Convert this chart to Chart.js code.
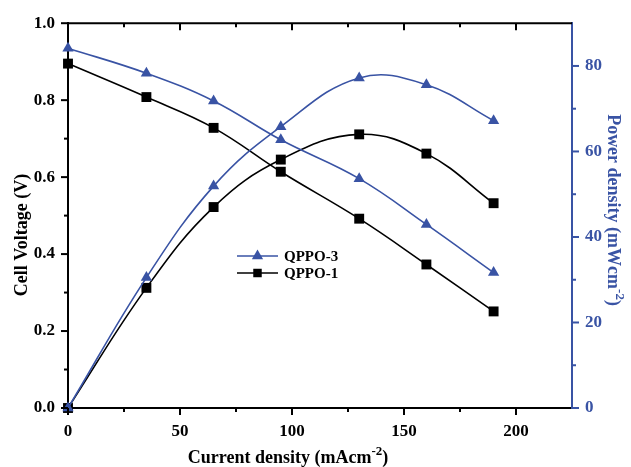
<!DOCTYPE html>
<html>
<head>
<meta charset="utf-8">
<script src="https://cdn.jsdelivr.net/npm/chart.js@4.4.0/dist/chart.umd.min.js"></script>
<style>
  body { margin: 0; background: #fff; }
</style>
</head>
<body>
<canvas id="fuelCell" width="631" height="467"></canvas>
<script>
// values
const currentDensity = [0, 35, 65, 95, 130, 160, 190];
const voltageQPPO3 = [0.935, 0.870, 0.798, 0.697, 0.596, 0.477, 0.352];
const voltageQPPO1 = [0.895, 0.808, 0.728, 0.614, 0.492, 0.373, 0.251];
const powerQPPO3 = [0, 30.5, 51.9, 65.8, 77.2, 75.6, 67.2];
const powerQPPO1 = [0, 28.1, 47.0, 58.1, 64.0, 59.5, 47.9];
const seriesNames = ['QPPO-3', 'QPPO-1'];

const BLUE = '#3953a4';
const BLACK = '#000';
const FONT = '"Liberation Serif", "Times New Roman", serif';

const toPoints = (ys) => currentDensity.map((x, i) => ({ x, y: ys[i] }));

const makeSet = (label, ys, axis, color, style) => ({
  label,
  data: toPoints(ys),
  yAxisID: axis,
  borderColor: color,
  backgroundColor: color,
  borderWidth: 1.6,
  pointStyle: style,
  pointRadius: style === 'triangle' ? 6.5 : 7,
  pointHoverRadius: style === 'triangle' ? 6.5 : 7,
  pointBorderWidth: 0,
  tension: 0.4,
  clip: false,
});

// draw ticks by hand so minor ones can be shorter
let chartTop = 0;
function drawTicks(ctx, scale, values, majorEvery, color, dir) {
  ctx.save();
  ctx.strokeStyle = color;
  ctx.lineWidth = 2;
  values.forEach(v => {
    const major = Math.abs(Math.round(v / majorEvery) * majorEvery - v) < 1e-6;
    const len = major ? 7 : 4;
    const p = scale.getPixelForValue(v);
    ctx.beginPath();
    if (dir === 'left') { ctx.moveTo(scale.right, p); ctx.lineTo(scale.right - len, p); }
    if (dir === 'right') { ctx.moveTo(scale.left, p); ctx.lineTo(scale.left + len, p); }
    if (dir === 'down') { ctx.moveTo(p, scale.top); ctx.lineTo(p, scale.top + len); }
    if (dir === 'topIn') { ctx.moveTo(p, chartTop); ctx.lineTo(p, chartTop + len); }
    ctx.stroke();
  });
  ctx.restore();
}

// draws centered at 0,0, with optional superscript parts
function richText(ctx, parts, size) {
  const widths = parts.map(p => {
    ctx.font = `bold ${p.sup ? size * 0.72 : size}px ${FONT}`;
    return ctx.measureText(p.text).width;
  });
  const total = widths.reduce((a, b) => a + b, 0);
  let x = -total / 2;
  parts.forEach((p, i) => {
    ctx.font = `bold ${p.sup ? size * 0.72 : size}px ${FONT}`;
    ctx.fillText(p.text, x, p.sup ? -size * 0.45 : 0);
    x += widths[i];
  });
}

const decorations = {
  id: 'decorations',
  afterDraw(chart) {
    const { ctx, chartArea, scales } = chart;
    chartTop = chartArea.top;

    // top frame line with inward ticks
    ctx.save();
    ctx.strokeStyle = BLACK;
    ctx.lineWidth = 2;
    ctx.beginPath();
    ctx.moveTo(chartArea.left, chartArea.top);
    ctx.lineTo(chartArea.right, chartArea.top);
    ctx.stroke();
    ctx.restore();

    const xv = [0, 25, 50, 75, 100, 125, 150, 175, 200];
    drawTicks(ctx, scales.x, xv, 50, BLACK, 'down');
    drawTicks(ctx, scales.x, xv.slice(1), 50, BLACK, 'topIn');
    drawTicks(ctx, scales.y, [0, 0.1, 0.2, 0.3, 0.4, 0.5, 0.6, 0.7, 0.8, 0.9, 1.0], 0.2, BLACK, 'left');
    drawTicks(ctx, scales.y2, [0, 10, 20, 30, 40, 50, 60, 70, 80], 20, BLUE, 'right');

    // axis titles
    ctx.save();
    ctx.fillStyle = BLACK;
    ctx.textAlign = 'left';
    ctx.textBaseline = 'alphabetic';
    ctx.translate(288, 463);
    richText(ctx, [{ text: 'Current density (mAcm' }, { text: '-2', sup: true }, { text: ')' }], 18);
    ctx.restore();

    ctx.save();
    ctx.fillStyle = BLACK;
    ctx.textAlign = 'left';
    ctx.translate(27, 235);
    ctx.rotate(-Math.PI / 2);
    richText(ctx, [{ text: 'Cell Voltage (V)' }], 18);
    ctx.restore();

    ctx.save();
    ctx.fillStyle = BLUE;
    ctx.textAlign = 'left';
    ctx.translate(608, 210);
    ctx.rotate(Math.PI / 2);
    richText(ctx, [{ text: 'Power density (mWcm' }, { text: '-2', sup: true }, { text: ')' }], 18);
    ctx.restore();

    // legend inside the plot
    const rows = [
      { name: seriesNames[0], color: BLUE, style: 'triangle', r: 6.5, y: 256 },
      { name: seriesNames[1], color: BLACK, style: 'rect', r: 6, y: 273 },
    ];
    rows.forEach(row => {
      ctx.save();
      ctx.strokeStyle = row.color;
      ctx.fillStyle = row.color;
      ctx.lineWidth = 1.6;
      ctx.beginPath();
      ctx.moveTo(237, row.y);
      ctx.lineTo(278, row.y);
      ctx.stroke();
      Chart.helpers.drawPoint(ctx, { pointStyle: row.style, radius: row.r, rotation: 0, borderWidth: 0 }, 257.5, row.y);
      ctx.fillStyle = BLACK;
      ctx.font = `bold 15px ${FONT}`;
      ctx.textBaseline = 'middle';
      ctx.textAlign = 'left';
      ctx.fillText(row.name, 284, row.y + 1);
      ctx.restore();
    });
  },
};

const tickFont = { family: FONT, size: 17, weight: 'bold' };

new Chart(document.getElementById('fuelCell'), {
  type: 'line',
  data: {
    datasets: [
      makeSet('QPPO-3 voltage', voltageQPPO3, 'y', BLUE, 'triangle'),
      makeSet('QPPO-3 power', powerQPPO3, 'y2', BLUE, 'triangle'),
      makeSet('QPPO-1 voltage', voltageQPPO1, 'y', BLACK, 'rect'),
      makeSet('QPPO-1 power', powerQPPO1, 'y2', BLACK, 'rect'),
    ],
  },
  options: {
    responsive: false,
    animation: false,
    layout: { padding: { top: 22, left: 0, right: 0, bottom: 0 } },
    plugins: {
      legend: { display: false },
      tooltip: { enabled: false },
    },
    scales: {
      x: {
        type: 'linear',
        min: 0,
        max: 225,
        ticks: {
          stepSize: 50,
          color: BLACK,
          font: tickFont,
          padding: 13,
          callback: (v) => (v % 50 === 0 && v <= 200 ? v : ''),
        },
        grid: { drawOnChartArea: false, drawTicks: false },
        border: { color: BLACK, width: 2 },
        afterFit: (s) => { s.height = 59; },
      },
      y: {
        position: 'left',
        min: 0,
        max: 1,
        ticks: {
          stepSize: 0.2,
          color: BLACK,
          font: tickFont,
          padding: 13,
          callback: (v) => v.toFixed(1),
        },
        grid: { drawOnChartArea: false, drawTicks: false },
        border: { color: BLACK, width: 2 },
        afterFit: (s) => { s.width = 68; },
      },
      y2: {
        position: 'right',
        min: 0,
        max: 90,
        ticks: {
          stepSize: 20,
          color: BLUE,
          font: tickFont,
          padding: 13,
          callback: (v) => (v <= 80 ? v : ''),
        },
        grid: { drawOnChartArea: false, drawTicks: false },
        border: { color: BLUE, width: 2 },
        afterFit: (s) => { s.width = 59; },
      },
    },
  },
  plugins: [decorations],
});
</script>
</body>
</html>
